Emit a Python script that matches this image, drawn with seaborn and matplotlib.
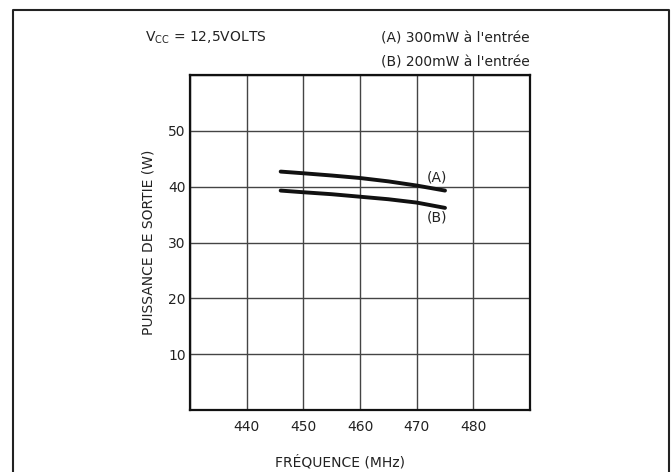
import matplotlib
matplotlib.use("Agg")
import matplotlib.pyplot as plt
from matplotlib.lines import Line2D
import seaborn as sns
import pandas as pd

# Data
freq_a = [446, 450, 455, 460, 465, 470, 475]
power_a = [42.7, 42.4, 42.0, 41.55, 40.95, 40.2, 39.3]
freq_b = [446, 450, 455, 460, 465, 470, 475]
power_b = [39.3, 39.0, 38.65, 38.2, 37.75, 37.15, 36.2]
x_ticks = [430, 440, 450, 460, 470, 480, 490]
x_labels = ["", "440", "450", "460", "470", "480", ""]
y_ticks = [0, 10, 20, 30, 40, 50, 60]
y_labels = ["", "10", "20", "30", "40", "50", ""]

df = pd.concat([
    pd.DataFrame({"freq": freq_a, "power": power_a, "curve": "A"}),
    pd.DataFrame({"freq": freq_b, "power": power_b, "curve": "B"}),
])

sns.set_theme(style="white")
plt.rcParams['font.family'] = ['DejaVu Sans']

fig = plt.figure(figsize=(6.71, 4.72), dpi=100)
ax = fig.add_axes([190/671, 1 - 410/472, 340/671, 335/472])

sns.lineplot(data=df, x="freq", y="power", hue="curve", palette=["#111111", "#111111"],
             linewidth=2.8, legend=False, ax=ax, estimator=None, sort=True)

ax.set_xlim(430, 490)
ax.set_ylim(0, 60)
ax.set_xticks(x_ticks)
ax.set_xticklabels(x_labels)
ax.set_yticks(y_ticks)
ax.set_yticklabels(y_labels)
ax.grid(True, color="#444444", linewidth=1.0)
ax.tick_params(axis="x", length=0, labelsize=10, colors="#222222", pad=7)
ax.tick_params(axis="y", length=0, labelsize=10, colors="#222222", pad=3)
for s in ax.spines.values():
    s.set_color("#111111")
    s.set_linewidth(1.6)
ax.set_xlabel("")
ax.set_ylabel("")

ax.text(473.5, 41.6, "(A)", fontsize=10, ha="center", va="center", color="#222222")
ax.text(473.5, 34.5, "(B)", fontsize=10, ha="center", va="center", color="#222222")

fig.text(148/671, 1 - 242/472, "PUISSANCE DE SORTIE (W)", rotation=90, ha="center", va="center",
         fontsize=10, color="#222222")
fig.text(340/671, 1 - 462/472, "FRÉQUENCE (MHz)", ha="center", va="center",
         fontsize=10, color="#222222")
fig.text(145/671, 1 - 38/472, r"V$_{\mathregular{CC}}$ = 12,5VOLTS", ha="left", va="center",
         fontsize=10, color="#222222")
fig.text(530/671, 1 - 38/472, "(A) 300mW à l'entrée", ha="right", va="center",
         fontsize=10, color="#222222")
fig.text(530/671, 1 - 63/472, "(B) 200mW à l'entrée", ha="right", va="center",
         fontsize=10, color="#222222")

# outer frame (left, top, right)
fig.add_artist(Line2D([13/671, 13/671, 669/671, 669/671],
                      [0, 1 - 10/472, 1 - 10/472, 0],
                      transform=fig.transFigure, color="#222222", linewidth=1.5))

fig.savefig("out.png", dpi=100)
